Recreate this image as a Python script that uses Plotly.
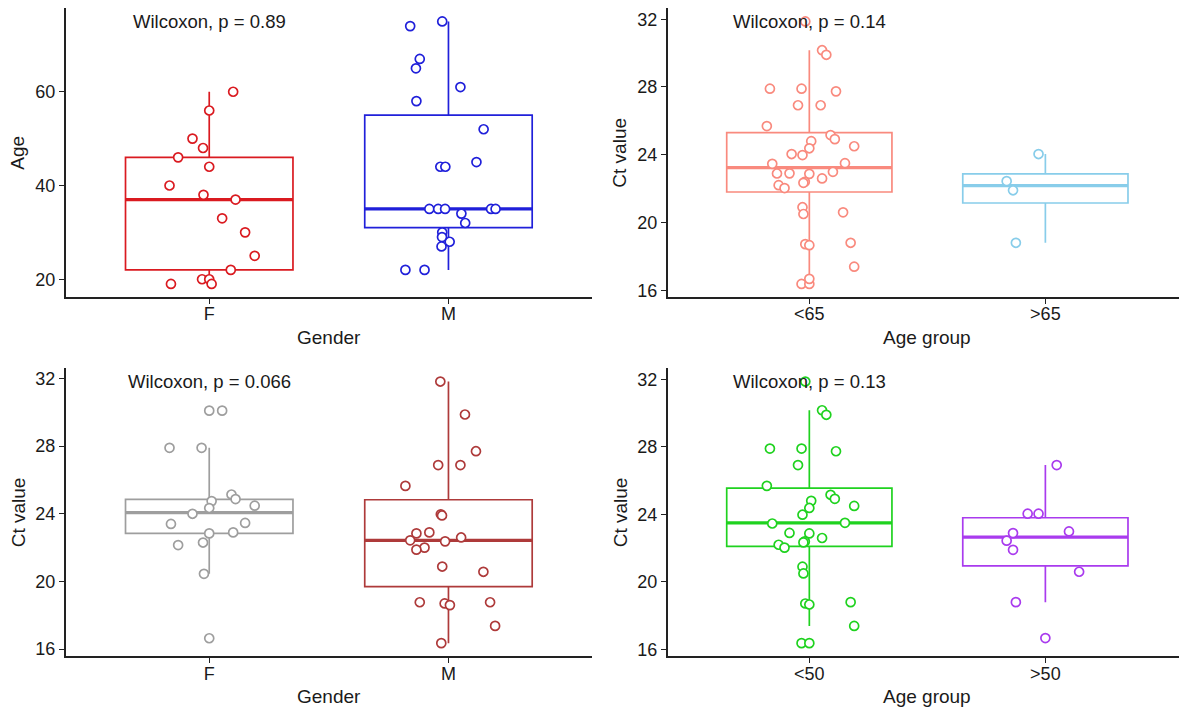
import plotly.graph_objects as go

# ---------------- data ----------------
# Panel 1: Age by gender
gender_labels = ["F", "M"]
age_F = [60, 56, 50, 48, 46, 44, 40, 38, 37, 33, 30, 25, 22, 20, 20, 19, 19]
age_F_jitter = [0.10, 0.0, -0.07, -0.026, -0.13, 0.0, -0.166, -0.024, 0.11, 0.054,
                0.15, 0.19, 0.09, -0.03, 0.0, -0.16, 0.01]
age_M = [74, 75, 67, 65, 61, 58, 52, 45, 44, 44, 35, 35, 35, 34, 32, 35, 35, 30, 29, 28, 27, 22, 22]
age_M_jitter = [-0.16, -0.026, -0.12, -0.136, 0.05, -0.134, 0.147, 0.117, -0.034, -0.013,
                -0.08, -0.043, -0.014, 0.054, 0.07, 0.178, 0.197, -0.026, -0.027, 0.005,
                -0.029, -0.18, -0.10]
# box statistics: q1, median, q3, lower whisker, upper whisker
age_box = {"F": [22, 37, 46, 19, 60], "M": [31, 35, 55, 22, 75]}

# Ct values (panels 2 and 4 share values and jitter)
ct_values = [31.87, 30.17, 29.90, 27.90, 27.90, 27.74, 26.92, 25.69, 25.16, 24.92,
             24.80, 24.50, 24.38, 23.98, 23.46, 23.50, 22.90, 22.87, 22.60, 22.40,
             22.34, 22.20, 22.03, 20.90, 20.50, 18.72, 18.66, 18.80, 17.39, 16.37,
             16.37, 26.92, 24.04, 22.89, 22.99, 20.60, 16.67, 24.04, 22.44, 21.90, 18.80]
ct_jitter = [-0.017, 0.054, 0.072, -0.167, -0.033, 0.113, -0.048, -0.18, 0.09, 0.108,
             0.008, 0.19, 0.0, -0.029, -0.157, 0.151, -0.084, 0.0, 0.054, -0.019,
             -0.025, -0.13, -0.105, -0.029, -0.025, -0.017, 0.0, 0.175, 0.19, -0.033,
             0.0, 0.048, -0.075, -0.137, 0.10, 0.143, 0.0, -0.029, -0.164, -0.137, -0.125]
age65_group = ["<65"] * 37 + [">65"] * 4
age50_group = ["<50"] * 31 + [">50"] * 10
age65_labels = ["<65", ">65"]
age50_labels = ["<50", ">50"]
ct65_box = {"<65": [21.8, 23.24, 25.3, 16.37, 30.17], ">65": [21.15, 22.18, 22.87, 18.8, 24.04]}
ct50_box = {"<50": [22.1, 23.5, 25.55, 17.39, 30.17], ">50": [20.95, 22.65, 23.8, 18.8, 26.92]}

# Panel 3: Ct by gender
ct_F = [30.1, 30.1, 27.9, 27.9, 25.14, 24.87, 24.75, 24.48, 24.34, 24.0, 23.4, 23.46,
        22.9, 22.84, 22.3, 22.15, 20.45, 16.64]
ct_F_jitter = [0.0, 0.054, -0.166, -0.032, 0.093, 0.11, 0.01, 0.19, 0.0, -0.07, -0.16,
               0.15, 0.10, 0.0, -0.026, -0.13, -0.022, 0.0]
ct_M = [31.82, 29.87, 27.7, 26.88, 26.88, 25.65, 23.97, 23.9, 22.84, 22.9, 22.6, 22.43,
        22.37, 22.0, 21.88, 20.88, 20.57, 18.77, 18.7, 18.6, 18.77, 17.37, 16.35]
ct_M_jitter = [-0.034, 0.069, 0.115, -0.043, 0.05, -0.18, -0.032, -0.027, -0.134, -0.08,
               0.053, -0.16, -0.014, -0.10, -0.134, -0.026, 0.146, -0.12, -0.016, 0.006,
               0.174, 0.195, -0.03]
ctg_box = {"F": [22.84, 24.07, 24.85, 20.45, 27.9], "M": [19.69, 22.43, 24.83, 16.35, 31.82]}

p_labels = ["Wilcoxon, p = 0.89", "Wilcoxon, p = 0.14", "Wilcoxon, p = 0.066", "Wilcoxon, p = 0.13"]

# ---------------- styling ----------------
FONT = "Liberation Sans, Arial, sans-serif"
PAGE_W, PAGE_H = 1187, 713
OFF = 8                       # default page body margin
W, H = PAGE_W - OFF, PAGE_H - OFF
BOX_W = 0.7
COL = {
    "p1": {"F": "#DA1A20", "M": "#2020DA"},
    "p2": {"<65": "#F98A7E", ">65": "#88CDEA"},
    "p3": {"F": "#9E9E9E", "M": "#AE3A3A"},
    "p4": {"<50": "#1FD21F", ">50": "#A93BEE"},
}


def px_x(p):
    return (p - OFF) / W


def px_y(p):
    return 1 - (p - OFF) / H


xdom_left = [px_x(65.7), px_x(592)]
xdom_right = [px_x(667.7), 1.0]
ydom_top = [px_y(298.3), px_y(8.3)]
ydom_bot = [px_y(659), px_y(370)]

fig = go.Figure()


def add_panel(idx, labels, groups, box_stats, colors, ticks, xtitle, ytitle, ptxt,
              xdom, ydom, xt_px, yt_px):
    xa = "x" if idx == 1 else f"x{idx}"
    ya = "y" if idx == 1 else f"y{idx}"
    allv = []
    for i, lab in enumerate(labels):
        pos = i + 1
        vals, jit = groups[lab]
        q1, med, q3, lo, hi = box_stats[lab]
        c = colors[lab]
        fig.add_trace(go.Box(
            x=[pos], q1=[q1], median=[med], q3=[q3], lowerfence=[lo], upperfence=[hi],
            width=BOX_W, whiskerwidth=0, boxpoints=False,
            line=dict(color=c, width=1.7), fillcolor="rgba(255,255,255,0)",
            xaxis=xa, yaxis=ya, showlegend=False, hoverinfo="skip"))
        fig.add_trace(go.Scatter(
            x=[pos - BOX_W / 2, pos + BOX_W / 2], y=[med, med], mode="lines",
            line=dict(color=c, width=3.2), xaxis=xa, yaxis=ya, showlegend=False,
            hoverinfo="skip"))
        allv += list(vals) + [lo, hi]
    for i, lab in enumerate(labels):
        pos = i + 1
        vals, jit = groups[lab]
        c = colors[lab]
        fig.add_trace(go.Scatter(
            x=[pos + j for j in jit], y=vals, mode="markers",
            marker=dict(symbol="circle", size=9, color="white", line=dict(color=c, width=1.7)),
            xaxis=xa, yaxis=ya, showlegend=False))
    vmin, vmax = min(allv), max(allv)
    pad = 0.05 * (vmax - vmin)
    yr = [vmin - pad, vmax + pad]
    axis_common = dict(showline=True, linecolor="#222222", linewidth=1.5, ticks="outside",
                       ticklen=5, tickwidth=1.3, tickcolor="#222222", showgrid=False,
                       zeroline=False, tickfont=dict(family=FONT, size=18, color="#1a1a1a"))
    xkey = "xaxis" if idx == 1 else f"xaxis{idx}"
    ykey = "yaxis" if idx == 1 else f"yaxis{idx}"
    fig.update_layout(**{
        xkey: dict(domain=xdom, range=[0.4, 2.6], tickmode="array", tickvals=[1, 2],
                   ticktext=labels, anchor=ya, ticklabelstandoff=-5, **axis_common),
        ykey: dict(domain=ydom, range=yr, tickmode="array", tickvals=ticks,
                   ticktext=[str(t) for t in ticks], anchor=xa, **axis_common),
    })
    # p-value label
    fig.add_annotation(x=1, y=max(max(groups[l][0]) for l in labels), xref=xa, yref=ya,
                       text=ptxt, showarrow=False, xanchor="center", yanchor="middle",
                       font=dict(family=FONT, size=18.5, color="#1a1a1a"))
    # axis titles
    xc = (xdom[0] + xdom[1]) / 2
    fig.add_annotation(x=xc, y=px_y(xt_px), xref="paper", yref="paper",
                       text=xtitle, showarrow=False, xanchor="center", yanchor="middle",
                       font=dict(family=FONT, size=19, color="#1a1a1a"))
    yc = (ydom[0] + ydom[1]) / 2
    fig.add_annotation(x=px_x(yt_px), y=yc, xref="paper", yref="paper",
                       text=ytitle, showarrow=False, xanchor="center", yanchor="middle",
                       textangle=-90, font=dict(family=FONT, size=19, color="#1a1a1a"))


def split(values, jitter, groups, labels):
    out = {}
    for lab in labels:
        vs = [v for v, g in zip(values, groups) if g == lab]
        js = [j for j, g in zip(jitter, groups) if g == lab]
        out[lab] = (vs, js)
    return out


add_panel(1, gender_labels, {"F": (age_F, age_F_jitter), "M": (age_M, age_M_jitter)},
          age_box, COL["p1"], [20, 40, 60], "Gender", "Age", p_labels[0],
          xdom_left, ydom_top, 339, 18)
add_panel(2, age65_labels, split(ct_values, ct_jitter, age65_group, age65_labels),
          ct65_box, COL["p2"], [16, 20, 24, 28, 32], "Age group", "Ct value", p_labels[1],
          xdom_right, ydom_top, 339, 620)
add_panel(3, gender_labels, {"F": (ct_F, ct_F_jitter), "M": (ct_M, ct_M_jitter)},
          ctg_box, COL["p3"], [16, 20, 24, 28, 32], "Gender", "Ct value", p_labels[2],
          xdom_left, ydom_bot, 699, 18)
add_panel(4, age50_labels, split(ct_values, ct_jitter, age50_group, age50_labels),
          ct50_box, COL["p4"], [16, 20, 24, 28, 32], "Age group", "Ct value", p_labels[3],
          xdom_right, ydom_bot, 699, 620)

fig.update_layout(width=W, height=H, margin=dict(l=0, r=0, t=0, b=0),
                  paper_bgcolor="white", plot_bgcolor="white", showlegend=False,
                  font=dict(family=FONT))
fig.write_html("out.html")
